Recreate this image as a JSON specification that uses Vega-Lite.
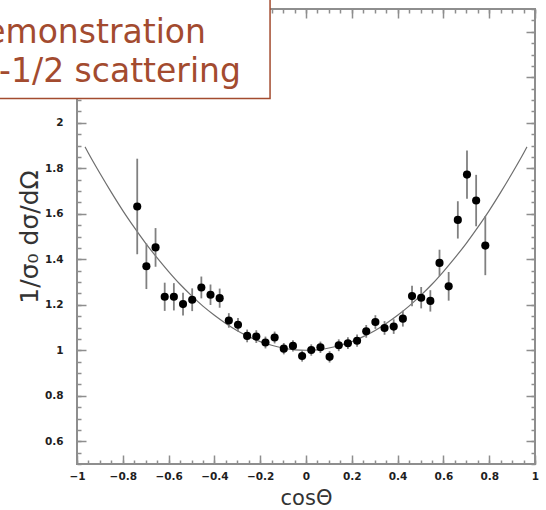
{
  "$schema": "https://vega.github.io/schema/vega-lite/v6.json",
  "width": 458,
  "height": 455,
  "autosize": {"type": "none"},
  "padding": {"left": 77, "top": 9, "right": 11, "bottom": 46},
  "background": "white",
  "config": {
    "view": {"stroke": "#8e8e8e", "strokeWidth": 2},
    "axis": {
      "grid": false,
      "domain": false,
      "tickColor": "#8e8e8e",
      "tickWidth": 1.5,
      "labelFont": "DejaVu Sans",
      "labelFontWeight": "bold",
      "labelFontSize": 10.5,
      "labelColor": "#1e1e1e",
      "labelOverlap": false,
      "labelBound": false,
      "labelFlush": false,
      "titleFont": "DejaVu Sans",
      "titleFontWeight": "normal",
      "titleColor": "#333333",
      "format": "~g"
    }
  },
  "datasets": {
    "fit": [
      {"cos": -0.965, "value": 1.894}, {"cos": -0.95, "value": 1.866}, {"cos": -0.9, "value": 1.778},
      {"cos": -0.85, "value": 1.694}, {"cos": -0.8, "value": 1.614}, {"cos": -0.75, "value": 1.540},
      {"cos": -0.7, "value": 1.470}, {"cos": -0.65, "value": 1.406}, {"cos": -0.6, "value": 1.346},
      {"cos": -0.55, "value": 1.290}, {"cos": -0.5, "value": 1.240}, {"cos": -0.45, "value": 1.194},
      {"cos": -0.4, "value": 1.154}, {"cos": -0.35, "value": 1.118}, {"cos": -0.3, "value": 1.086},
      {"cos": -0.25, "value": 1.060}, {"cos": -0.2, "value": 1.038}, {"cos": -0.15, "value": 1.022},
      {"cos": -0.1, "value": 1.010}, {"cos": -0.05, "value": 1.002}, {"cos": 0, "value": 1.000},
      {"cos": 0.05, "value": 1.002}, {"cos": 0.1, "value": 1.010}, {"cos": 0.15, "value": 1.022},
      {"cos": 0.2, "value": 1.038}, {"cos": 0.25, "value": 1.060}, {"cos": 0.3, "value": 1.086},
      {"cos": 0.35, "value": 1.118}, {"cos": 0.4, "value": 1.154}, {"cos": 0.45, "value": 1.194},
      {"cos": 0.5, "value": 1.240}, {"cos": 0.55, "value": 1.290}, {"cos": 0.6, "value": 1.346},
      {"cos": 0.65, "value": 1.406}, {"cos": 0.7, "value": 1.470}, {"cos": 0.75, "value": 1.540},
      {"cos": 0.8, "value": 1.614}, {"cos": 0.85, "value": 1.694}, {"cos": 0.9, "value": 1.778},
      {"cos": 0.95, "value": 1.866}, {"cos": 0.965, "value": 1.894}
    ],
    "measured": [
      {"cos": -0.737, "value": 1.632, "lo": 1.422, "hi": 1.842},
      {"cos": -0.697, "value": 1.369, "lo": 1.269, "hi": 1.469},
      {"cos": -0.657, "value": 1.452, "lo": 1.367, "hi": 1.537},
      {"cos": -0.617, "value": 1.235, "lo": 1.173, "hi": 1.297},
      {"cos": -0.577, "value": 1.235, "lo": 1.175, "hi": 1.295},
      {"cos": -0.537, "value": 1.203, "lo": 1.153, "hi": 1.253},
      {"cos": -0.497, "value": 1.222, "lo": 1.172, "hi": 1.272},
      {"cos": -0.457, "value": 1.276, "lo": 1.228, "hi": 1.324},
      {"cos": -0.417, "value": 1.244, "lo": 1.199, "hi": 1.289},
      {"cos": -0.377, "value": 1.229, "lo": 1.187, "hi": 1.271},
      {"cos": -0.337, "value": 1.131, "lo": 1.099, "hi": 1.163},
      {"cos": -0.297, "value": 1.112, "lo": 1.082, "hi": 1.142},
      {"cos": -0.257, "value": 1.063, "lo": 1.035, "hi": 1.091},
      {"cos": -0.217, "value": 1.060, "lo": 1.032, "hi": 1.088},
      {"cos": -0.177, "value": 1.034, "lo": 1.008, "hi": 1.060},
      {"cos": -0.137, "value": 1.056, "lo": 1.030, "hi": 1.082},
      {"cos": -0.097, "value": 1.007, "lo": 0.982, "hi": 1.032},
      {"cos": -0.057, "value": 1.019, "lo": 0.994, "hi": 1.044},
      {"cos": -0.017, "value": 0.975, "lo": 0.950, "hi": 1.000},
      {"cos": 0.023, "value": 1.001, "lo": 0.976, "hi": 1.026},
      {"cos": 0.063, "value": 1.013, "lo": 0.988, "hi": 1.038},
      {"cos": 0.103, "value": 0.971, "lo": 0.946, "hi": 0.996},
      {"cos": 0.143, "value": 1.022, "lo": 0.996, "hi": 1.048},
      {"cos": 0.183, "value": 1.031, "lo": 1.005, "hi": 1.057},
      {"cos": 0.223, "value": 1.042, "lo": 1.015, "hi": 1.069},
      {"cos": 0.263, "value": 1.083, "lo": 1.055, "hi": 1.111},
      {"cos": 0.303, "value": 1.124, "lo": 1.094, "hi": 1.154},
      {"cos": 0.343, "value": 1.098, "lo": 1.068, "hi": 1.128},
      {"cos": 0.383, "value": 1.104, "lo": 1.072, "hi": 1.136},
      {"cos": 0.423, "value": 1.139, "lo": 1.104, "hi": 1.174},
      {"cos": 0.463, "value": 1.238, "lo": 1.193, "hi": 1.283},
      {"cos": 0.503, "value": 1.231, "lo": 1.184, "hi": 1.278},
      {"cos": 0.543, "value": 1.217, "lo": 1.170, "hi": 1.264},
      {"cos": 0.583, "value": 1.384, "lo": 1.326, "hi": 1.442},
      {"cos": 0.623, "value": 1.281, "lo": 1.218, "hi": 1.344},
      {"cos": 0.663, "value": 1.573, "lo": 1.491, "hi": 1.655},
      {"cos": 0.703, "value": 1.772, "lo": 1.666, "hi": 1.878},
      {"cos": 0.743, "value": 1.658, "lo": 1.545, "hi": 1.771},
      {"cos": 0.783, "value": 1.460, "lo": 1.330, "hi": 1.590}
    ],
    "note": [{"label": "Demonstration"}]
  },
  "layer": [
    {
      "data": {"name": "fit"},
      "mark": {"type": "line", "interpolate": "monotone", "color": "#6e6e6e", "strokeWidth": 1.2},
      "encoding": {
        "x": {
          "field": "cos", "type": "quantitative",
          "scale": {"domain": [-1, 1], "nice": false, "zero": false},
          "axis": {
            "orient": "bottom", "title": "cosΘ", "titleFontSize": 21, "titlePadding": 6,
            "values": [-1, -0.8, -0.6, -0.4, -0.2, 0, 0.2, 0.4, 0.6, 0.8, 1],
            "ticks": false, "labelPadding": 7
          }
        },
        "y": {
          "field": "value", "type": "quantitative",
          "scale": {"domain": [0.5, 2.5], "nice": false, "zero": false},
          "axis": {
            "orient": "left", "title": "1/σ₀  dσ/dΩ", "titleFontSize": 25, "titlePadding": 2,
            "values": [0.6, 0.8, 1, 1.2, 1.4, 1.6, 1.8, 2],
            "ticks": false, "labelPadding": 14
          }
        }
      }
    },
    {
      "data": {"name": "measured"},
      "mark": {"type": "rule", "color": "#808080", "strokeWidth": 1.8},
      "encoding": {
        "x": {
          "field": "cos", "type": "quantitative",
          "axis": {
            "orient": "bottom", "title": null, "labels": false, "tickSize": 9, "offset": -9,
            "values": [-1, -0.8, -0.6, -0.4, -0.2, 0, 0.2, 0.4, 0.6, 0.8, 1]
          }
        },
        "y": {
          "field": "lo", "type": "quantitative",
          "axis": {
            "orient": "left", "title": null, "labels": false, "tickSize": 9, "offset": -9,
            "values": [0.6, 0.8, 1, 1.2, 1.4, 1.6, 1.8, 2, 2.2, 2.4]
          }
        },
        "y2": {"field": "hi"}
      }
    },
    {
      "data": {"name": "measured"},
      "mark": {"type": "circle", "color": "#000000", "opacity": 1, "size": 66},
      "encoding": {
        "x": {
          "field": "cos", "type": "quantitative",
          "axis": {
            "orient": "top", "title": null, "labels": false, "tickSize": 9, "offset": -9,
            "values": [-1, -0.8, -0.6, -0.4, -0.2, 0, 0.2, 0.4, 0.6, 0.8, 1]
          }
        },
        "y": {
          "field": "value", "type": "quantitative",
          "axis": {
            "orient": "right", "title": null, "labels": false, "tickSize": 9, "offset": -9,
            "values": [0.6, 0.8, 1, 1.2, 1.4, 1.6, 1.8, 2, 2.2, 2.4]
          }
        }
      }
    },
    {
      "data": {"name": "note"},
      "mark": {"type": "rect", "fill": "white", "stroke": "#a34b2f", "strokeWidth": 1.5, "clip": false},
      "encoding": {
        "x": {
          "datum": -1.6, "type": "quantitative",
          "axis": {
            "orient": "bottom", "title": null, "labels": false, "tickSize": 4, "offset": -4,
            "values": [-1, -0.95, -0.9, -0.85, -0.8, -0.75, -0.7, -0.65, -0.6, -0.55, -0.5, -0.45, -0.4, -0.35, -0.3, -0.25, -0.2, -0.15, -0.1, -0.05, 0, 0.05, 0.1, 0.15, 0.2, 0.25, 0.3, 0.35, 0.4, 0.45, 0.5, 0.55, 0.6, 0.65, 0.7, 0.75, 0.8, 0.85, 0.9, 0.95, 1]
          }
        },
        "x2": {"datum": -0.157},
        "y": {
          "datum": 2.107, "type": "quantitative",
          "axis": {
            "orient": "left", "title": null, "labels": false, "tickSize": 4, "offset": -4,
            "values": [0.5, 0.55, 0.6, 0.65, 0.7, 0.75, 0.8, 0.85, 0.9, 0.95, 1, 1.05, 1.1, 1.15, 1.2, 1.25, 1.3, 1.35, 1.4, 1.45, 1.5, 1.55, 1.6, 1.65, 1.7, 1.75, 1.8, 1.85, 1.9, 1.95, 2, 2.05, 2.1, 2.15, 2.2, 2.25, 2.3, 2.35, 2.4, 2.45, 2.5]
          }
        },
        "y2": {"datum": 2.6}
      }
    },
    {
      "data": {"name": "note"},
      "mark": {
        "type": "text", "font": "DejaVu Sans", "fontSize": 33,
        "color": "#a34b2f", "align": "right", "baseline": "alphabetic", "clip": false
      },
      "encoding": {
        "text": {"value": "Demonstration"},
        "x": {
          "datum": -0.437, "type": "quantitative",
          "axis": {
            "orient": "top", "title": null, "labels": false, "tickSize": 4, "offset": -4,
            "values": [-1, -0.95, -0.9, -0.85, -0.8, -0.75, -0.7, -0.65, -0.6, -0.55, -0.5, -0.45, -0.4, -0.35, -0.3, -0.25, -0.2, -0.15, -0.1, -0.05, 0, 0.05, 0.1, 0.15, 0.2, 0.25, 0.3, 0.35, 0.4, 0.45, 0.5, 0.55, 0.6, 0.65, 0.7, 0.75, 0.8, 0.85, 0.9, 0.95, 1]
          }
        },
        "y": {
          "datum": 2.349, "type": "quantitative",
          "axis": {
            "orient": "right", "title": null, "labels": false, "tickSize": 4, "offset": -4,
            "values": [0.5, 0.55, 0.6, 0.65, 0.7, 0.75, 0.8, 0.85, 0.9, 0.95, 1, 1.05, 1.1, 1.15, 1.2, 1.25, 1.3, 1.35, 1.4, 1.45, 1.5, 1.55, 1.6, 1.65, 1.7, 1.75, 1.8, 1.85, 1.9, 1.95, 2, 2.05, 2.1, 2.15, 2.2, 2.25, 2.3, 2.35, 2.4, 2.45, 2.5]
          }
        }
      }
    },
    {
      "data": {"name": "note"},
      "mark": {
        "type": "text", "font": "DejaVu Sans", "fontSize": 33,
        "color": "#a34b2f", "align": "right", "baseline": "alphabetic", "clip": false
      },
      "encoding": {
        "text": {"value": "spin-1/2 scattering"},
        "x": {"datum": -0.284, "type": "quantitative", "axis": null},
        "y": {"datum": 2.179, "type": "quantitative", "axis": null}
      }
    }
  ],
  "resolve": {"axis": {"x": "independent", "y": "independent"}}
}
